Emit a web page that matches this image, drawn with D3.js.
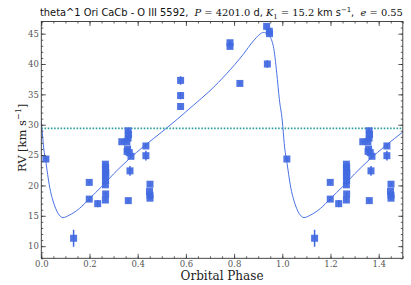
<!DOCTYPE html>
<html lang="en">
<head>
  <meta charset="UTF-8">
  <script src="https://cdn.jsdelivr.net/npm/d3@7"></script>
  <title>RV curve</title>
  <style>
    body { margin: 0; background: white; }
    .tick text { font-family: "DejaVu Serif", serif; fill: #555; }
  </style>
</head>
<body>
<script>
  // observed points: phase, radial velocity, error
  const phase = [0.019, 0.134, 0.199, 0.199, 0.234,
    0.266, 0.267, 0.266, 0.268, 0.266, 0.267, 0.266, 0.267, 0.266,
    0.334, 0.360, 0.362, 0.360, 0.355, 0.358, 0.356, 0.365, 0.372,
    0.368, 0.361, 0.434, 0.434, 0.451, 0.449, 0.451, 0.451,
    0.578, 0.578, 0.578, 0.783, 0.783, 0.824, 0.935, 0.946, 0.947, 0.938];
  const rv = [24.35, 11.3, 20.5, 17.75, 17.0,
    23.5, 23.0, 22.5, 22.0, 21.4, 20.8, 20.1, 18.6, 17.6,
    27.2, 29.0, 28.4, 27.8, 27.2, 26.0, 25.6, 25.4, 24.8,
    22.4, 17.5, 26.5, 24.9, 20.2, 19.0, 18.4, 17.9,
    37.3, 34.8, 33.0, 43.5, 42.9, 36.8, 46.2, 45.4, 45.0, 40.0];
  const err = [0.4, 1.4, 0.3, 0.3, 0.6,
    0.3, 0.3, 0.3, 0.3, 0.3, 0.3, 0.3, 0.3, 0.3,
    0.3, 0.3, 0.3, 0.3, 0.3, 0.3, 0.3, 0.3, 0.3,
    0.8, 0.3, 0.3, 0.8, 0.3, 0.3, 0.3, 0.3,
    0.7, 0.6, 0.3, 0.3, 0.3, 0.3, 0.3, 0.3, 0.3, 0.6];

  // fitted orbit
  const curvePhase = [0, 0.004, 0.008, 0.020, 0.033, 0.054, 0.075, 0.090, 0.116, 0.158,
    0.199, 0.25, 0.30, 0.36, 0.43, 0.5, 0.555, 0.631, 0.700, 0.769,
    0.838, 0.880, 0.907, 0.921, 0.942, 0.963, 0.977, 0.988, 1.0];
  const curveRV = [30.6, 28.8, 26.9, 23.6, 20.1, 16.8, 15.1, 14.7, 15.1, 16.2,
    17.8, 19.8, 21.9, 24.2, 26.6, 28.8, 30.6, 33.2, 35.6, 38.4,
    41.6, 43.8, 44.9, 45.2, 44.8, 42.9, 38.5, 34.1, 30.6];

  const gamma = 29.4;
  const xTicks = [0, 0.2, 0.4, 0.6, 0.8, 1.0, 1.2, 1.4];
  const yTicks = [10, 15, 20, 25, 30, 35, 40, 45];

  const W = 411, H = 285;
  const m = { left: 41.3, right: 402.8, top: 21.5, bottom: 258.3 };

  const svg = d3.select('body').append('svg')
    .attr('width', W).attr('height', H);

  const x = d3.scaleLinear().domain([0, 1.5]).range([m.left, m.right]);
  const y = d3.scaleLinear().domain([8, 47]).range([m.bottom, m.top]);

  svg.append('clipPath').attr('id', 'clip')
    .append('rect').attr('x', m.left).attr('y', m.top)
    .attr('width', m.right - m.left).attr('height', m.bottom - m.top);

  const plot = svg.append('g').attr('clip-path', 'url(#clip)');

  // model curve, repeated for phase 1..1.5
  const curveData = [];
  curvePhase.forEach((p, i) => curveData.push([p, curveRV[i]]));
  curvePhase.forEach((p, i) => { if (p > 0) curveData.push([p + 1, curveRV[i]]); });

  plot.append('path')
    .datum(curveData)
    .attr('fill', 'none')
    .attr('stroke', '#4a70e4')
    .attr('stroke-width', 1)
    .attr('d', d3.line().x(d => x(d[0])).y(d => y(d[1])).curve(d3.curveMonotoneX));

  // systemic velocity
  plot.append('line')
    .attr('x1', m.left).attr('x2', m.right)
    .attr('y1', y(gamma)).attr('y2', y(gamma))
    .attr('stroke', '#2e9e9c').attr('stroke-width', 1.6)
    .attr('stroke-dasharray', '1.6,1.6');

  // points, shown at phase and phase+1
  const pts = [];
  phase.forEach((p, i) => {
    pts.push({ p: p, v: rv[i], e: err[i] });
    if (p + 1 <= 1.5) pts.push({ p: p + 1, v: rv[i], e: err[i] });
  });

  plot.selectAll('line.err').data(pts).enter().append('line')
    .attr('class', 'err')
    .attr('x1', d => x(d.p)).attr('x2', d => x(d.p))
    .attr('y1', d => y(d.v - d.e)).attr('y2', d => y(d.v + d.e))
    .attr('stroke', '#4169e1').attr('stroke-width', 1.5);

  plot.selectAll('rect.pt').data(pts).enter().append('rect')
    .attr('class', 'pt')
    .attr('x', d => x(d.p) - 3.5).attr('y', d => y(d.v) - 3.5)
    .attr('width', 7).attr('height', 7)
    .attr('fill', '#4169e1').attr('fill-opacity', 0.92);

  // axes: ticks inward on all sides
  const fmtX = d3.format('.1f');
  const xMinor = d3.range(0, 1.5001, 0.05);
  const yMinor = d3.range(8, 47.001, 1);

  svg.append('g').attr('transform', `translate(0,${m.bottom})`)
    .call(d3.axisBottom(x).tickValues(xMinor).tickSize(-2).tickFormat(''));
  svg.append('g').attr('transform', `translate(0,${m.bottom})`)
    .call(d3.axisBottom(x).tickValues(xTicks).tickSize(-4.5).tickPadding(2.5).tickFormat(fmtX));
  svg.append('g').attr('transform', `translate(0,${m.top})`)
    .call(d3.axisTop(x).tickValues(xMinor).tickSize(-2).tickFormat(''));
  svg.append('g').attr('transform', `translate(0,${m.top})`)
    .call(d3.axisTop(x).tickValues(xTicks).tickSize(-4.5).tickFormat(''));

  svg.append('g').attr('transform', `translate(${m.left},0)`)
    .call(d3.axisLeft(y).tickValues(yMinor).tickSize(-2).tickFormat(''));
  svg.append('g').attr('transform', `translate(${m.left},0)`)
    .call(d3.axisLeft(y).tickValues(yTicks).tickSize(-4.5).tickPadding(2.5).tickFormat(d3.format('d')));
  svg.append('g').attr('transform', `translate(${m.right},0)`)
    .call(d3.axisRight(y).tickValues(yMinor).tickSize(-2).tickFormat(''));
  svg.append('g').attr('transform', `translate(${m.right},0)`)
    .call(d3.axisRight(y).tickValues(yTicks).tickSize(-4.5).tickFormat(''));

  svg.selectAll('.domain').remove();
  svg.selectAll('.tick line').attr('stroke', '#333').attr('stroke-width', 0.8);
  svg.selectAll('.tick text').attr('font-size', 8.5);

  svg.append('rect')
    .attr('x', m.left).attr('y', m.top)
    .attr('width', m.right - m.left).attr('height', m.bottom - m.top)
    .attr('fill', 'none').attr('stroke', '#333').attr('stroke-width', 0.9);

  // labels
  svg.append('text')
    .attr('x', (m.left + m.right) / 2).attr('y', 280)
    .attr('text-anchor', 'middle')
    .attr('font-family', 'DejaVu Serif, serif').attr('font-size', 12).attr('fill', '#222')
    .text('Orbital Phase');

  const yl = svg.append('text')
    .attr('transform', `translate(26,${(m.top + m.bottom) / 2 - 2}) rotate(-90)`)
    .attr('text-anchor', 'middle')
    .attr('font-family', 'DejaVu Serif, serif').attr('font-size', 11.5).attr('fill', '#222');
  yl.append('tspan').text('RV [km s');
  yl.append('tspan').attr('font-size', 8).attr('dy', -5).text('−1');
  yl.append('tspan').attr('dy', 5).text(']');

  // title, mixed text and math
  const sans = 'DejaVu Sans, sans-serif', serif = 'DejaVu Serif, serif';
  const title = svg.append('text')
    .attr('x', 40).attr('y', 16)
    .attr('font-size', 11).attr('fill', '#111');
  const parts = [
    { t: 'theta^1 Ori CaCb - O III 5592,\u00a0\u00a0', f: sans },
    { t: 'P', f: serif, it: true },
    { t: ' = 4201.0', f: serif },
    { t: ' d, ', f: sans },
    { t: 'K', f: serif, it: true },
    { t: '1', f: serif, sub: true },
    { t: ' = 15.2', f: serif },
    { t: ' km s', f: sans },
    { t: '−1', f: sans, sup: true },
    { t: ',\u00a0\u00a0', f: sans },
    { t: 'e', f: serif, it: true },
    { t: ' = 0.55', f: serif }
  ];
  let shift = 0;
  parts.forEach(d => {
    const s = title.append('tspan').attr('font-family', d.f).text(d.t);
    if (d.it) s.attr('font-style', 'italic');
    const target = d.sub ? 3 : d.sup ? -4 : 0;
    if (target !== shift) { s.attr('dy', target - shift); shift = target; }
    if (d.sub || d.sup) s.attr('font-size', 7.5);
  });
  // fit title width to the frame
  const tw = title.node().getComputedTextLength();
  const fs = 11 * 363 / tw;
  title.attr('font-size', fs);
  title.selectAll('tspan').filter(function () { return this.getAttribute('font-size'); })
    .attr('font-size', fs * 0.7);
</script>
</body>
</html>
